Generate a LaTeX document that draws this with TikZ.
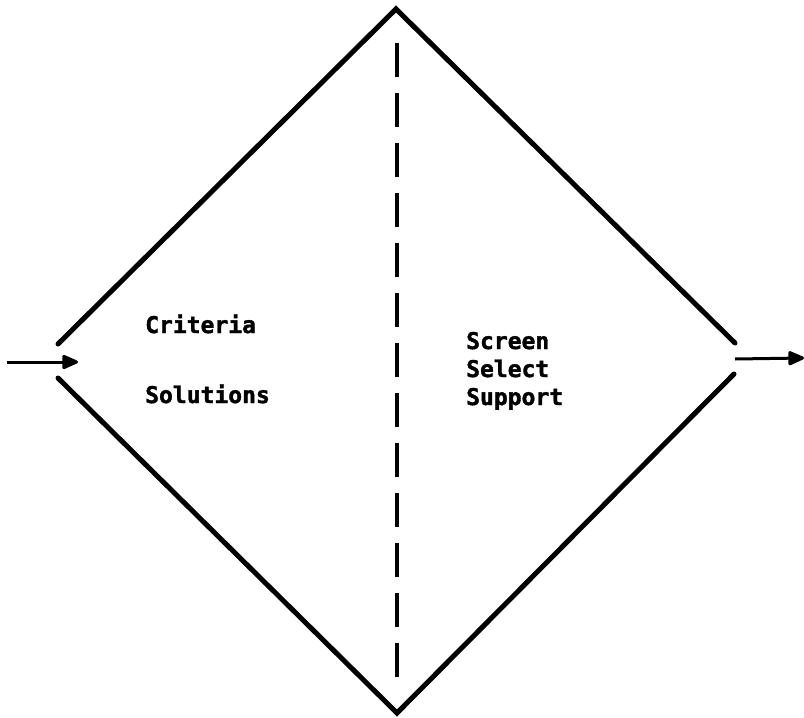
\documentclass[tikz,border=0pt]{standalone}
\usepackage{fontspec}
\newfontfamily\labelfont{DejaVu Sans Mono Bold}[FakeBold=1.6]
\usetikzlibrary{arrows.meta}
\begin{document}
\begin{tikzpicture}[x=1pt,y=-1pt,
  edge/.style={line width=5pt,line cap=round,line join=miter},
  divider/.style={line width=4pt,dash pattern=on 34pt off 16pt},
  flow/.style={line width=3pt,-{Triangle[length=18pt,width=15pt,round]}},
  lbl/.style={anchor=base west,inner sep=0pt,font=\labelfont\fontsize{23}{23}\selectfont}]
\useasboundingbox (0,0) rectangle (804,718);
% corners of the open diamond
\coordinate (top) at (396,9);
\coordinate (bot) at (397,713);
\coordinate (lu) at (58,344);
\coordinate (ll) at (58,378);
\coordinate (ru) at (735,343);
\coordinate (rl) at (734,374);
\draw[edge] (lu) -- (top) -- (ru);
\draw[edge] (ll) -- (bot) -- (rl);
% dashed divider
\coordinate (dtop) at (397,43);
\coordinate (dbot) at (397,683);
\draw[divider] (dtop) -- (dbot);
% input and output
\coordinate (inA) at (7,362);
\coordinate (inB) at (78,362);
\coordinate (outA) at (735,359);
\coordinate (outB) at (804,358);
\draw[flow] (inA) -- (inB);
\draw[flow] (outA) -- (outB);
% labels
\node[lbl] (crit) at (145,333) {Criteria};
\node[lbl] (sol) at (145,403) {Solutions};
\node[lbl] (scr) at (466,349) {Screen};
\node[lbl] (sel) at (466,377) {Select};
\node[lbl] (sup) at (466,405) {Support};
\end{tikzpicture}
\end{document}
